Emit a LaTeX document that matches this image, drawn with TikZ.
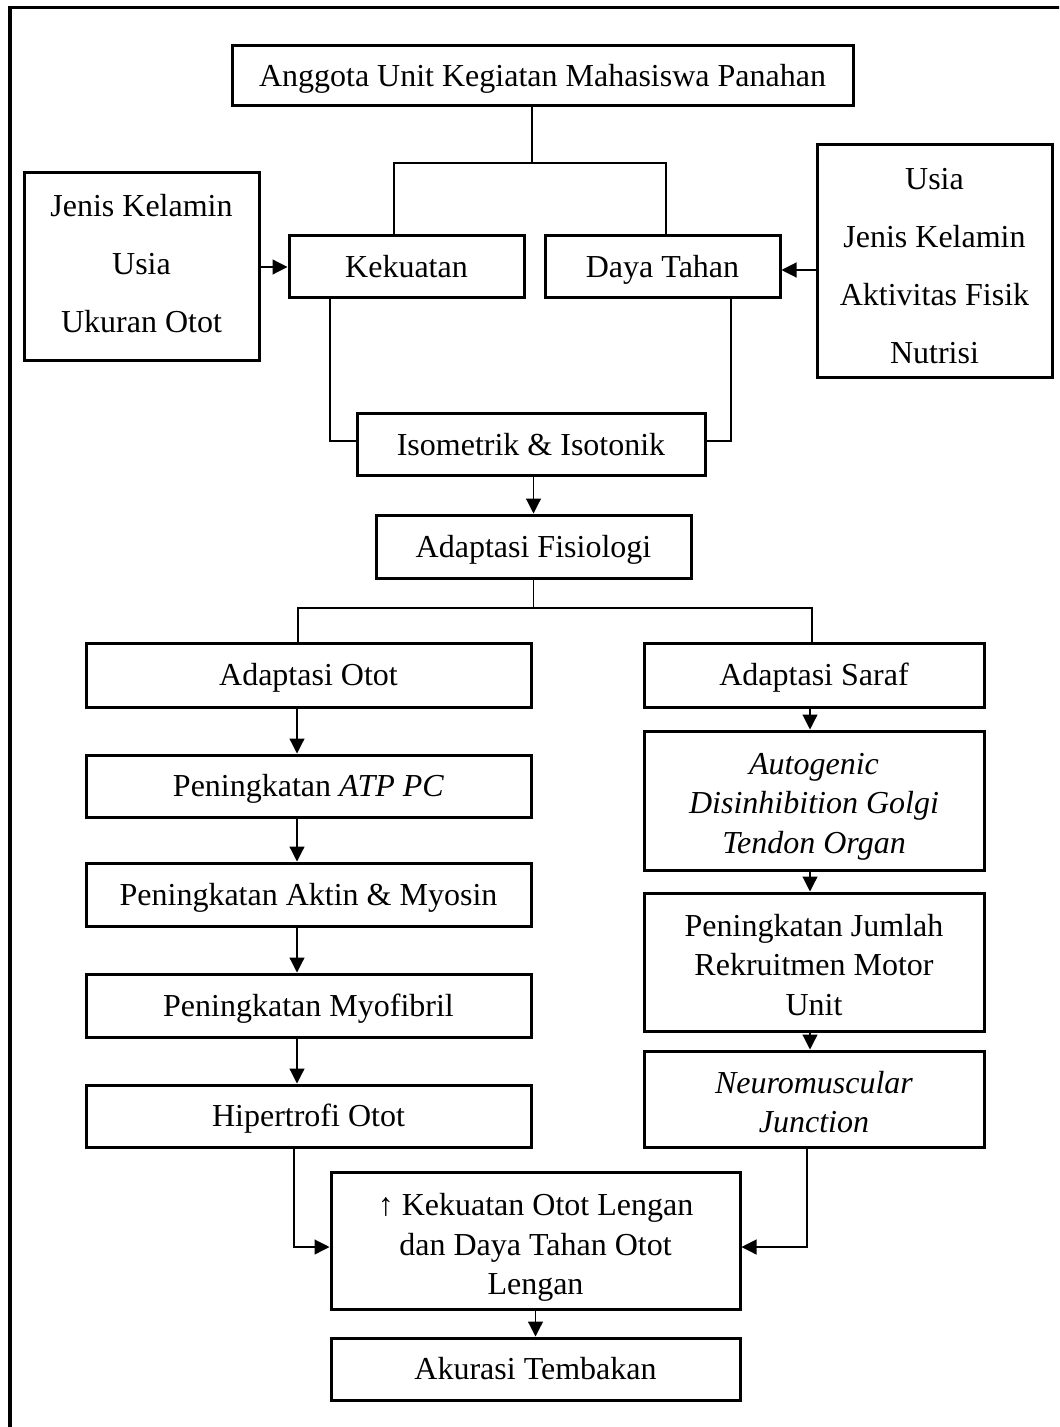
\documentclass[tikz,border=0pt]{standalone}
\usepackage{fontspec}
\setmainfont{Liberation Serif}
\usetikzlibrary{arrows.meta}
\begin{document}
\begin{tikzpicture}[x=0.5pt,y=-0.5pt,
 box/.style={draw,line width=1.5pt,inner sep=0pt,align=center,font=\fontsize{16}{19.75}\selectfont,text height=12pt,text depth=1.4pt},
 wide/.style={font=\fontsize{16}{29}\selectfont},
 txt/.style={inner sep=0pt,align=center,font=\fontsize{16}{19.75}\selectfont},
 link/.style={line width=0.6pt},
 arr/.style={link,-{Triangle[length=7.5pt,width=7.5pt]}}]
\clip (0,0) rectangle (1059,1427);
\fill[white] (0,0) rectangle (1059,1427);
\draw[line width=1.75pt] (10,1440) -- (10,7.5) -- (1070,7.5);

\node[box,minimum width=310.5pt,minimum height=30pt] (ang) at (542.5,76) {Anggota Unit Kegiatan Mahasiswa Panahan};
\node[box,minimum width=117.5pt,minimum height=94pt] (lft) at (141.5,267) {};
\node[txt,wide] (lftt) at ([yshift=1.5pt]lft.center) {Jenis Kelamin\\Usia\\Ukuran Otot};
\node[box,minimum width=117.5pt,minimum height=31pt] (kek) at (406.5,267) {Kekuatan};
\node[box,minimum width=117.5pt,minimum height=31pt] (day) at (662.5,267) {Daya Tahan};
\node[box,minimum width=117.5pt,minimum height=116.5pt] (rgt) at (934.5,261.5) {};
\node[txt,wide] (rgtt) at ([yshift=-2.25pt]rgt.center) {Usia\\Jenis Kelamin\\Aktivitas Fisik\\Nutrisi};
\node[box,minimum width=174pt,minimum height=30.5pt] (iso) at (531,444.5) {Isometrik \& Isotonik};
\node[box,minimum width=157.5pt,minimum height=31.5pt] (af) at (533.5,546.5) {Adaptasi Fisiologi};
\node[box,minimum width=222.5pt,minimum height=32pt] (ao) at (308.5,675) {Adaptasi Otot};
\node[box,minimum width=170pt,minimum height=32pt] (as) at (814,675) {Adaptasi Saraf};
\node[box,minimum width=222.5pt,minimum height=31pt] (atp) at (308.5,786) {Peningkatan \textit{ATP PC}};
\node[box,minimum width=170pt,minimum height=69.5pt] (auto) at (814,800.5) {};
\node[txt] (autot) at ([yshift=-3pt]auto.center) {\textit{Autogenic}\\\textit{Disinhibition Golgi}\\\textit{Tendon Organ}};
\node[box,minimum width=222.5pt,minimum height=31.5pt] (akt) at (308.5,894.5) {Peningkatan Aktin \& Myosin};
\node[box,minimum width=170pt,minimum height=69pt] (rek) at (814,962) {};
\node[txt] (rekt) at ([yshift=-1.5pt]rek.center) {Peningkatan Jumlah\\Rekruitmen Motor\\Unit};
\node[box,minimum width=222.5pt,minimum height=31.5pt] (myo) at (308.5,1005.5) {Peningkatan Myofibril};
\node[box,minimum width=170pt,minimum height=48pt] (neu) at (814,1099) {};
\node[txt] (neut) at ([yshift=-1.5pt]neu.center) {\textit{Neuromuscular}\\\textit{Junction}};
\node[box,minimum width=222.5pt,minimum height=31pt] (hip) at (308.5,1116) {Hipertrofi Otot};
\node[box,minimum width=204.5pt,minimum height=68.5pt] (kol) at (535.5,1240.5) {};
\node[txt] (kolt) at ([yshift=-3.5pt]kol.center) {↑ Kekuatan Otot Lengan\\dan Daya Tahan Otot\\Lengan};
\node[box,minimum width=204.5pt,minimum height=31pt] (aku) at (535.5,1369) {Akurasi Tembakan};

\coordinate (j1) at (532,163);
\coordinate (xk) at (394,0);
\coordinate (xd) at (666,0);
\draw[link] (ang.south -| j1) -- (j1);
\draw[link] (kek.north -| xk) |- (j1) -| (day.north -| xd);
\draw[arr] (lft.east) -- (kek.west);
\coordinate (yr) at (0,270);
\draw[arr] (rgt.west |- yr) -- (day.east |- yr);
\coordinate (xk2) at (330,0);
\coordinate (xd2) at (731,0);
\coordinate (yi) at (0,441);
\draw[link] (kek.south -| xk2) |- (iso.west |- yi);
\draw[link] (day.south -| xd2) |- (iso.east |- yi);
\draw[arr] (iso.south -| af.north) -- (af.north);
\coordinate (j2) at (533.5,608);
\coordinate (xo) at (298,0);
\coordinate (xs) at (812,0);
\draw[link] (af.south) -- (j2);
\draw[link] (ao.north -| xo) |- (j2) -| (as.north -| xs);
\coordinate (xl) at (297,0);
\draw[arr] (ao.south -| xl) -- (atp.north -| xl);
\draw[arr] (atp.south -| xl) -- (akt.north -| xl);
\draw[arr] (akt.south -| xl) -- (myo.north -| xl);
\draw[arr] (myo.south -| xl) -- (hip.north -| xl);
\coordinate (xr) at (810,0);
\draw[arr] (as.south -| xr) -- (auto.north -| xr);
\draw[arr] (auto.south -| xr) -- (rek.north -| xr);
\draw[arr] (rek.south -| xr) -- (neu.north -| xr);
\coordinate (xh) at (294,0);
\coordinate (xn) at (807,0);
\coordinate (yk) at (0,1247);
\draw[arr] (hip.south -| xh) |- (kol.west |- yk);
\draw[arr] (neu.south -| xn) |- (kol.east |- yk);
\draw[arr] (kol.south) -- (aku.north);
\end{tikzpicture}
\end{document}
